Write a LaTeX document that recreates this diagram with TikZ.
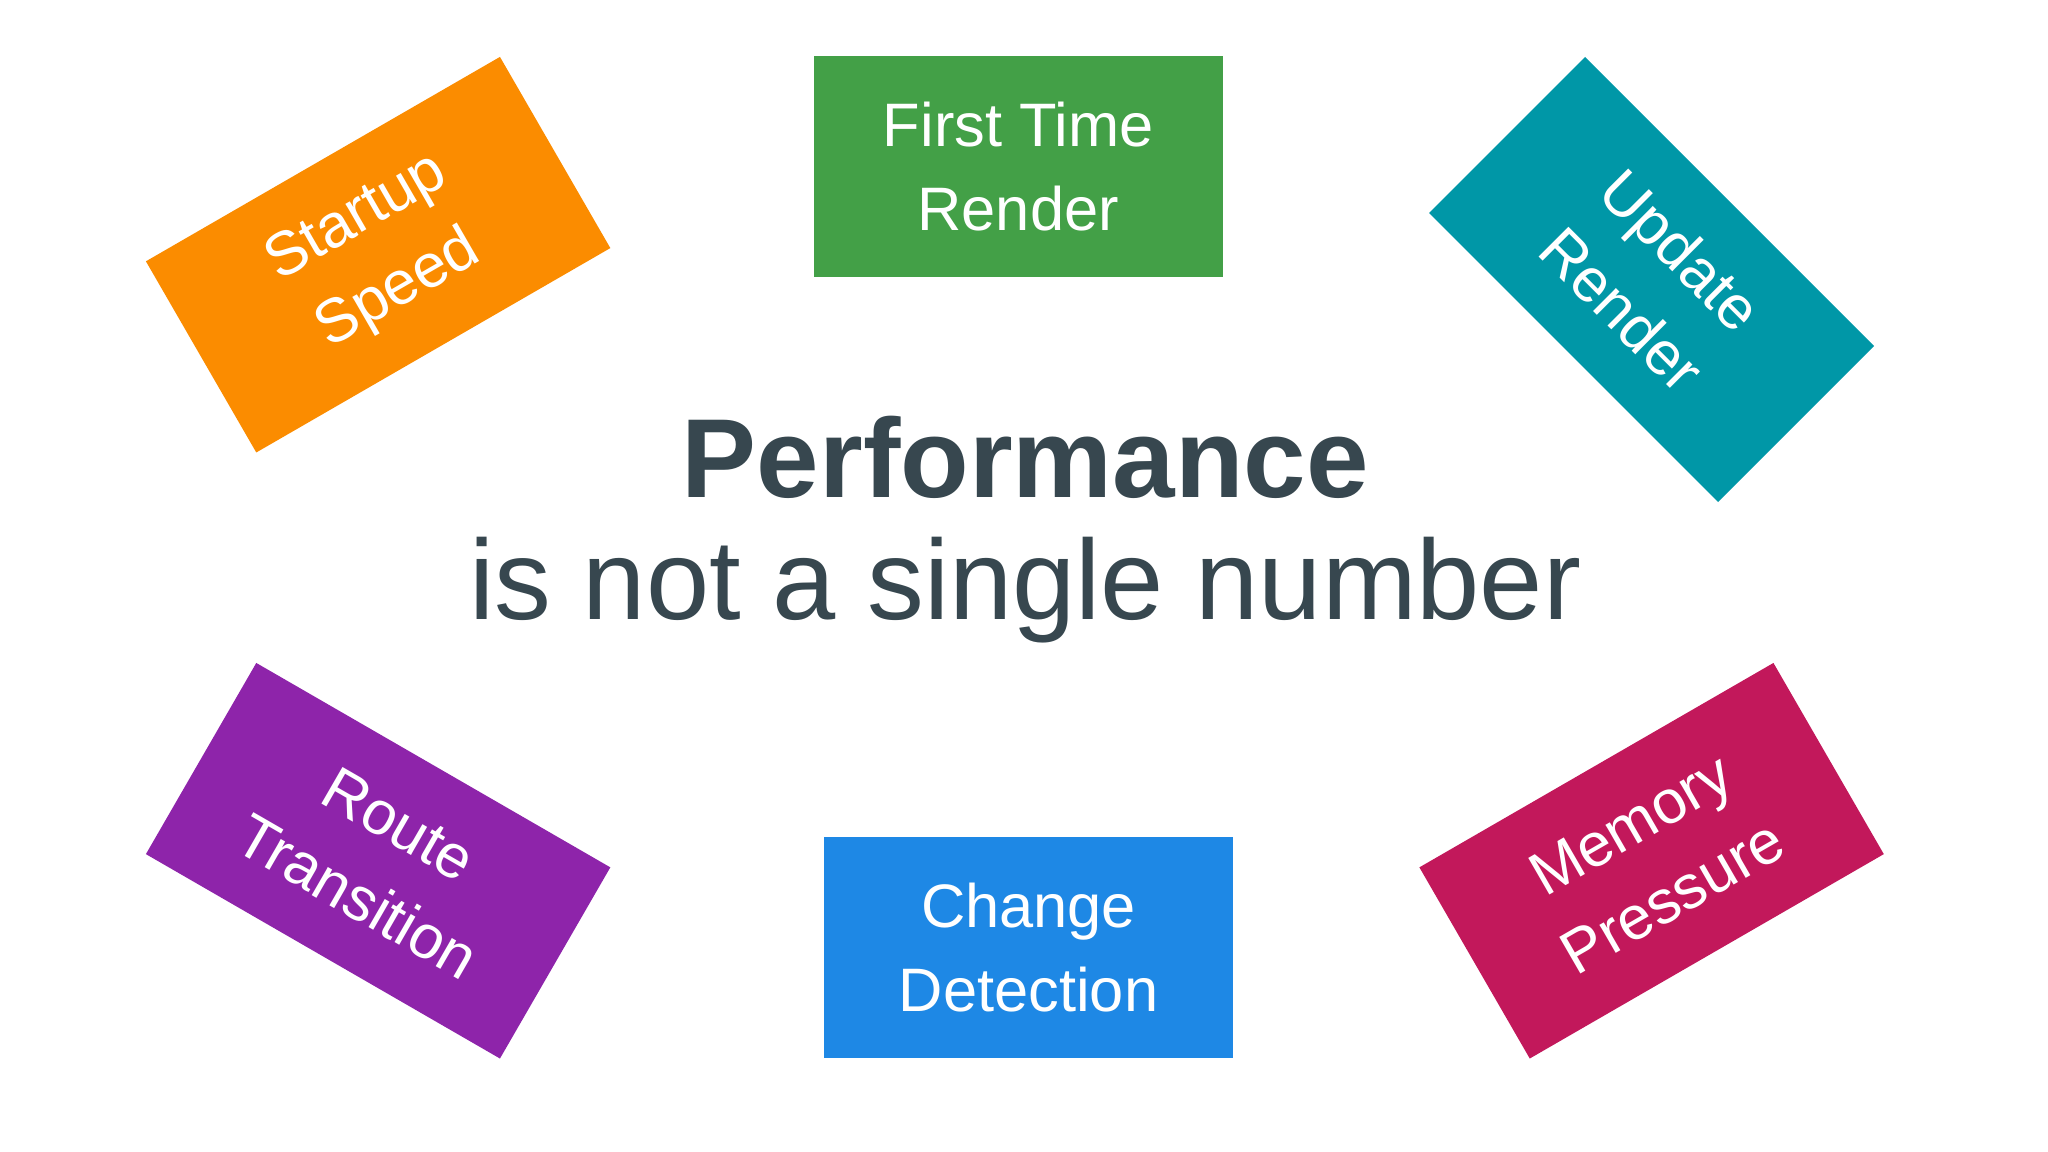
\documentclass[tikz,border=0pt]{standalone}
\usepackage{fontspec}
\setmainfont{Liberation Sans}
\definecolor{cgreen}{HTML}{43A047}
\definecolor{cblue}{HTML}{1E88E5}
\definecolor{corange}{HTML}{FB8C00}
\definecolor{cteal}{HTML}{0097A7}
\definecolor{cpurple}{HTML}{8E24AA}
\definecolor{cpink}{HTML}{C2185B}
\definecolor{cdark}{HTML}{37474F}
\begin{document}
\begin{tikzpicture}[x=1pt,y=-1pt,
  card/.style={minimum width=313pt,minimum height=169pt,inner sep=0pt,text=white,align=center,
    font=\fontsize{47}{64}\selectfont}]
\useasboundingbox (0,0) rectangle (1568,882);
\fill[white] (0,0) rectangle (1568,882);
\node[card,fill=cgreen] (ftr) at (779.5,127.5) {First Time\\Render};
\node[card,fill=cblue] (cd) at (787.5,725.5) {Change\\Detection};
\node[card,fill=corange,rotate=30] (ss) at (289.5,195) {Startup\\Speed};
\node[card,fill=cteal,rotate=-45] (ur) at (1264.5,214) {Update\\Render};
\node[card,fill=cpurple,rotate=-30] (rt) at (289.5,659) {Route\\Transition};
\node[card,fill=cpink,rotate=30] (mp) at (1264.5,659) {Memory\\Pressure};
\node[text=cdark,font=\bfseries\fontsize{86}{100}\selectfont] (perf) at (785,350) {Performance};
\node[text=cdark,font=\fontsize{87}{100}\selectfont] (sub) at (785,452) {is not a single number};
\end{tikzpicture}
\end{document}
